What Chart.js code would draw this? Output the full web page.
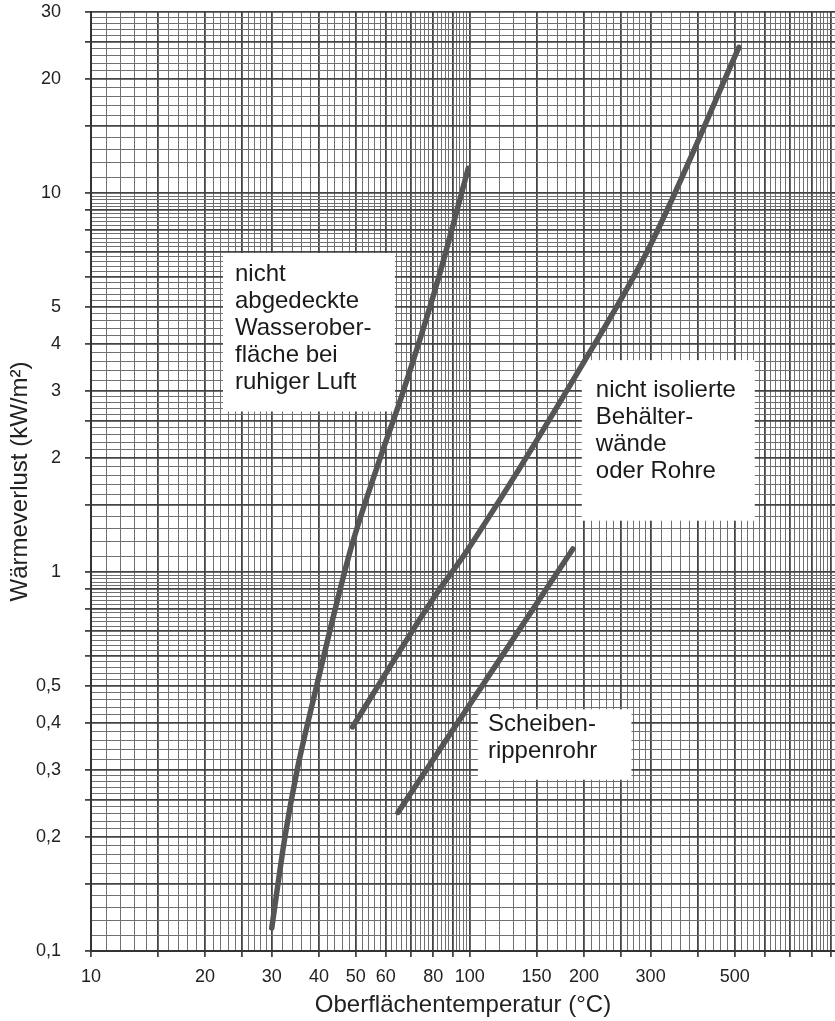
<!DOCTYPE html>
<html>
<head>
<meta charset="utf-8">
<script src="https://cdn.jsdelivr.net/npm/chart.js@4/dist/chart.umd.min.js"></script>
<style>
  html, body { margin: 0; padding: 0; background: #fff; }
  #wrap { width: 835px; height: 1021px; position: relative; }
</style>
</head>
<body>
<div id="wrap"><canvas id="chart"></canvas></div>
<script>
// Wärmeverlust über Oberflächentemperatur, doppelt logarithmisch

const xTickValues = [10, 20, 30, 40, 50, 60, 80, 100, 150, 200, 300, 500];
const xTickLabels = ['10', '20', '30', '40', '50', '60', '80', '100', '150', '200', '300', '500'];
const yTickValues = [0.1, 0.2, 0.3, 0.4, 0.5, 1, 2, 3, 4, 5, 10, 20, 30];
const yTickLabels = ['0,1', '0,2', '0,3', '0,4', '0,5', '1', '2', '3', '4', '5', '10', '20', '30'];

// nicht abgedeckte Wasseroberfläche bei ruhiger Luft
const waterTemp = [30, 32.5, 35, 38, 43, 48.5, 58, 66, 82, 99];
const waterLoss = [0.115, 0.2, 0.3, 0.43, 0.72, 1.15, 2.0, 2.9, 5.8, 11.6];
// nicht isolierte Behälterwände oder Rohre
const wallTemp = [49, 80, 99, 199, 300, 513];
const wallLoss = [0.39, 0.85, 1.15, 3.55, 7.3, 24.2];
// Scheibenrippenrohr
const finTemp = [64.6, 121, 187];
const finLoss = [0.232, 0.596, 1.15];

// text boxes, corners in data units
const notes = [
  { lines: ['nicht', 'abgedeckte', 'Wasserober-', 'fläche bei', 'ruhiger Luft'],
    from: [22.3, 6.94], to: [63.4, 2.65], padX: 12, padY: 21 },
  { lines: ['nicht isolierte', 'Behälter-', 'wände', 'oder Rohre'],
    from: [197.5, 3.62], to: [565, 1.365], padX: 14, padY: 30 },
  { lines: ['Scheiben-', 'rippenrohr'],
    from: [105, 0.434], to: [267, 0.283], padX: 10, padY: 15 },
];

const FONT = "'Liberation Sans', Arial, Helvetica, sans-serif";
const MAJOR = [1, 1.5, 2, 2.5, 3, 4, 5, 6, 7, 8, 9];

// log paper: 0.1 steps up to 3, 0.2 steps above, per decade
function paperTicks(min, max) {
  const out = [];
  for (let e = Math.floor(Math.log10(min)); e <= Math.ceil(Math.log10(max)); e++) {
    const d = Math.pow(10, e);
    for (let k = 10; k < 100; k++) {
      if (k >= 30 && k % 2) continue;
      const v = Number((k * d / 10).toPrecision(6));
      if (v >= min && v <= max) out.push(v);
    }
  }
  return out;
}

function mantissa(v) {
  const m = v / Math.pow(10, Math.floor(Math.log10(v) + 1e-9));
  return Math.round(m * 100) / 100;
}
const isMajor = v => MAJOR.includes(mantissa(v));

function labelFor(v, values, labels) {
  const i = values.findIndex(t => Math.abs(t - v) / t < 1e-6);
  return i < 0 ? '' : labels[i];
}

const gridStyle = {
  color: c => (c.tick && isMajor(c.tick.value)) ? '#444' : '#707070',
  lineWidth: c => (c.tick && isMajor(c.tick.value)) ? 1.8 : 1,
  tickColor: c => (c.tick && isMajor(c.tick.value)) ? '#444' : 'rgba(0,0,0,0)',
  tickLength: 6,
};

const notesPlugin = {
  id: 'notes',
  beforeDatasetsDraw(chart) {
    const { ctx, scales: { x, y } } = chart;
    ctx.save();
    notes.forEach(n => {
      const x1 = x.getPixelForValue(n.from[0]);
      const y1 = y.getPixelForValue(n.from[1]);
      const x2 = x.getPixelForValue(n.to[0]);
      const y2 = y.getPixelForValue(n.to[1]);
      ctx.fillStyle = '#fff';
      ctx.fillRect(x1, y1, x2 - x1, y2 - y1);
      ctx.fillStyle = '#1a1a1a';
      ctx.font = '24px ' + FONT;
      ctx.textAlign = 'left';
      ctx.textBaseline = 'middle';
      n.lines.forEach((t, i) => ctx.fillText(t, x1 + n.padX, y1 + n.padY + i * 27));
    });
    ctx.restore();
  }
};

const toPoints = (xs, ys) => xs.map((v, i) => ({ x: v, y: ys[i] }));
const curve = (data) => ({
  data,
  borderColor: '#555',
  borderWidth: 5.5,
  borderCapStyle: 'round',
  borderJoinStyle: 'round',
  pointRadius: 0,
  cubicInterpolationMode: 'monotone',
  fill: false,
});

new Chart(document.getElementById('chart'), {
  type: 'line',
  data: {
    datasets: [
      curve(toPoints(waterTemp, waterLoss)),
      curve(toPoints(wallTemp, wallLoss)),
      curve(toPoints(finTemp, finLoss)),
    ],
  },
  options: {
    responsive: true,
    maintainAspectRatio: false,
    animation: false,
    layout: { padding: { top: 12, right: 0, left: 0, bottom: 0 } },
    plugins: { legend: { display: false }, tooltip: { enabled: false } },
    scales: {
      x: {
        type: 'logarithmic',
        min: 10,
        max: 920,
        afterBuildTicks: s => { s.ticks = paperTicks(10, 920).map(v => ({ value: v })); },
        afterFit: s => { s.height = 70; s.paddingRight = 0; s.paddingLeft = 0; },
        ticks: {
          autoSkip: false,
          maxRotation: 0,
          padding: 9,
          color: '#222',
          font: { family: FONT, size: 18 },
          callback: v => labelFor(v, xTickValues, xTickLabels),
        },
        grid: gridStyle,
        border: { display: true, color: '#333', width: 2 },
        title: {
          display: true,
          text: 'Oberflächentemperatur (°C)',
          color: '#222',
          font: { family: FONT, size: 24 },
          padding: { top: 0, bottom: 1 },
        },
      },
      y: {
        type: 'logarithmic',
        min: 0.1,
        max: 30,
        afterBuildTicks: s => { s.ticks = paperTicks(0.1, 30).map(v => ({ value: v })); },
        afterFit: s => { s.width = 91; s.paddingTop = 0; s.paddingBottom = 0; },
        ticks: {
          autoSkip: false,
          padding: 24,
          color: '#222',
          font: { family: FONT, size: 18 },
          callback: v => labelFor(v, yTickValues, yTickLabels),
        },
        grid: gridStyle,
        border: { display: true, color: '#333', width: 2 },
        title: {
          display: true,
          text: 'Wärmeverlust (kW/m²)',
          color: '#222',
          font: { family: FONT, size: 24 },
          padding: { top: 6, bottom: 0 },
        },
      },
    },
  },
  plugins: [notesPlugin],
});
</script>
</body>
</html>
